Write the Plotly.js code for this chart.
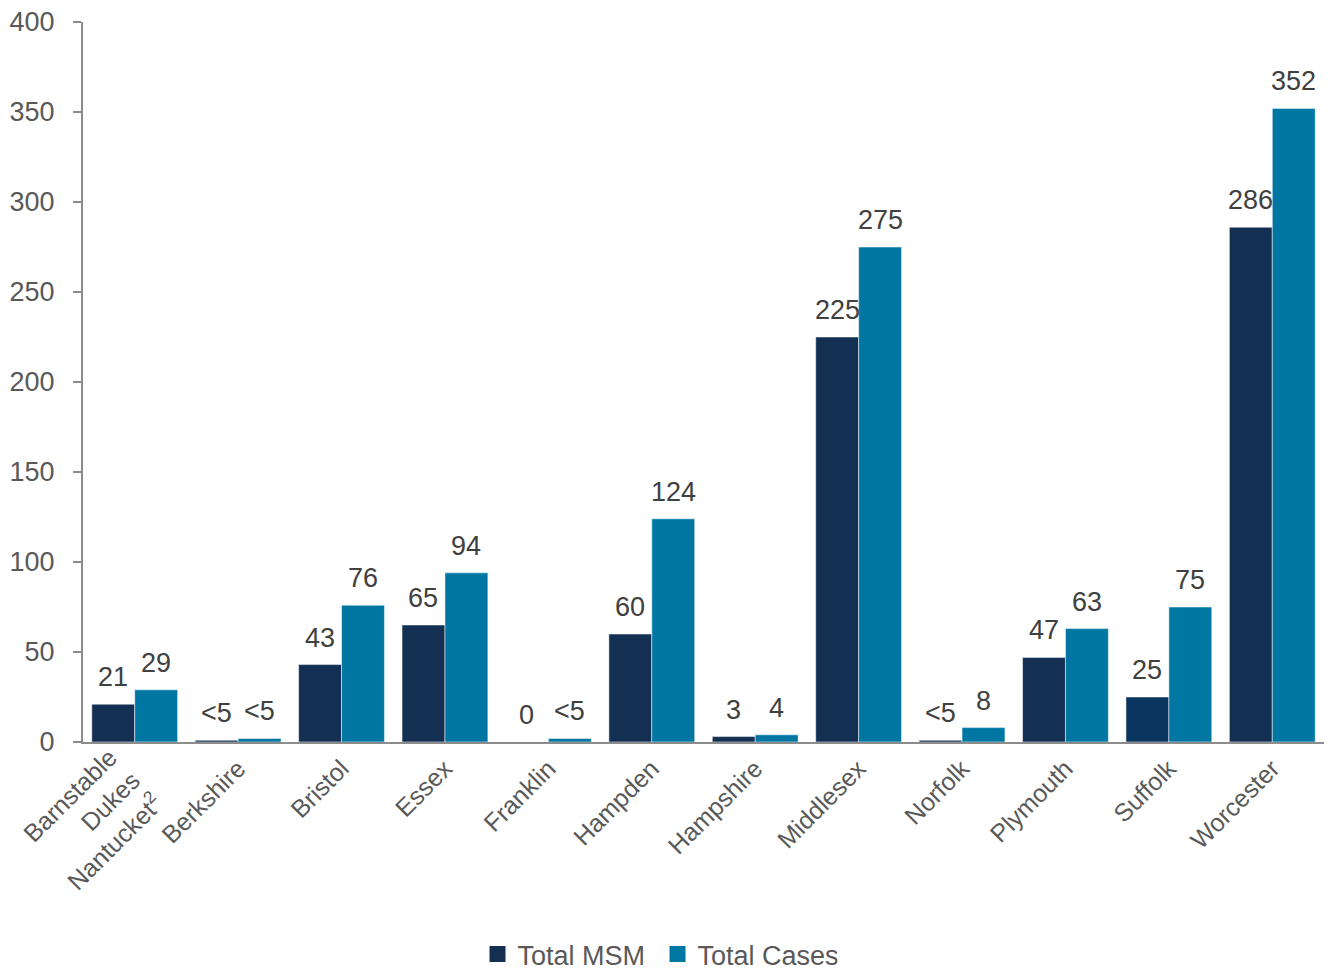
<!DOCTYPE html>
<html><head><meta charset="utf-8">
<script src="https://cdn.plot.ly/plotly-3.0.1.min.js"></script>
<style>html,body{margin:0;padding:0;background:#fff;}#chart{width:1331px;height:970px;}</style>
</head><body><div id="chart"></div>
<script>
const categories = ["Barnstable<br>Dukes<br>Nantucket<sup>2</sup>","Berkshire","Bristol","Essex","Franklin","Hampden","Hampshire","Middlesex","Norfolk","Plymouth","Suffolk","Worcester"];
const msmValues = [21, 1, 43, 65, 0, 60, 3, 225, 1, 47, 25, 286];
const msmLabels = ["21","<5","43","65","0","60","3","225","<5","47","25","286"];
const casesValues = [29, 2, 76, 94, 2, 124, 4, 275, 8, 63, 75, 352];
const casesLabels = ["29","<5","76","94","<5","124","4","275","8","63","75","352"];
const yTicks = [0,50,100,150,200,250,300,350,400];
const seriesNames = ["Total MSM","Total Cases"];

const FONT = '"Liberation Sans", Arial, sans-serif';
const LABEL_COLOR = '#404040';
const TICK_COLOR = '#595959';
const MSM_COLOR = '#132f52';
const CASES_COLOR = '#0077a3';
const msmColors = categories.map((c,i)=> i===10 ? '#0a355e' : MSM_COLOR);

const traces = [
  {type:'bar', name:seriesNames[0], x:categories, y:msmValues, showlegend:false,
   marker:{color:msmColors, line:{width:1,color:'rgba(255,255,255,0.5)'}}, hoverinfo:'x+y'},
  {type:'bar', name:seriesNames[1], x:categories, y:casesValues, showlegend:false,
   marker:{color:CASES_COLOR, line:{width:1,color:'rgba(255,255,255,0.5)'}}, hoverinfo:'x+y'},
  {type:'scatter', mode:'markers', name:seriesNames[0], x:[null], y:[null],
   marker:{symbol:'square', size:16, color:MSM_COLOR}, hoverinfo:'skip'},
  {type:'scatter', mode:'markers', name:seriesNames[1], x:[null], y:[null],
   marker:{symbol:'square', size:16, color:CASES_COLOR}, hoverinfo:'skip'}
];

const BAR_SHIFT = 21.5;
const annotations = [];
categories.forEach((c,i)=>{
  annotations.push({x:c, y:msmValues[i], xref:'x', yref:'y', text:msmLabels[i], showarrow:false,
    xanchor:'center', yanchor:'bottom', xshift:-BAR_SHIFT, yshift:10,
    font:{family:FONT,size:27,color:LABEL_COLOR}});
  annotations.push({x:c, y:casesValues[i], xref:'x', yref:'y', text:casesLabels[i], showarrow:false,
    xanchor:'center', yanchor:'bottom', xshift:BAR_SHIFT, yshift:10,
    font:{family:FONT,size:27,color:LABEL_COLOR}});
});

const layout = {
  width:1331, height:970,
  margin:{l:83, r:7, t:22, b:228},
  paper_bgcolor:'#fff', plot_bgcolor:'#fff',
  barmode:'group', bargap:0.17, bargroupgap:0,
  font:{family:FONT, size:27, color:TICK_COLOR},
  showlegend:true,
  legend:{orientation:'h', x:0.494, xanchor:'center', xref:'container', yref:'container', y:0.016, yanchor:'middle',
          font:{family:FONT,size:27,color:TICK_COLOR}, itemwidth:30, tracegroupgap:0,
          entrywidthmode:'pixels', entrywidth:135},
  xaxis:{type:'category', tickangle:-45, showgrid:false, showline:true, linecolor:'#8c8c8c', linewidth:2,
         ticks:'', tickfont:{family:FONT,size:25,color:TICK_COLOR}, zeroline:false, automargin:false},
  yaxis:{range:[0,400], tickvals:yTicks, showgrid:false, showline:true, linecolor:'#8c8c8c', linewidth:2,
         ticks:'outside', ticklen:8, tickcolor:'#8c8c8c', tickwidth:2, zeroline:false, automargin:false,
         ticklabelstandoff:13, tickfont:{family:FONT,size:27,color:TICK_COLOR}},
  annotations:annotations
};
Plotly.newPlot('chart', traces, layout, {displayModeBar:false, staticPlot:true}).then(gd=>{
  const t = gd.querySelector('.xtick text');
  if (t) {
    const tr = t.getAttribute('transform') || '';
    t.setAttribute('transform', 'translate(-25,-11) ' + tr);
  }
});
</script></body></html>
